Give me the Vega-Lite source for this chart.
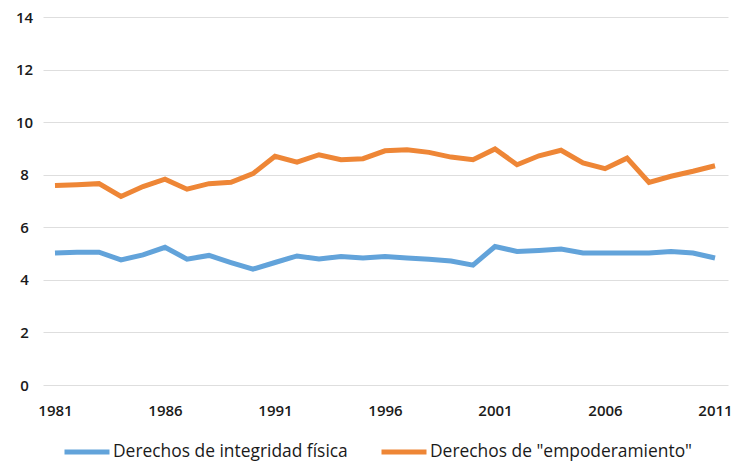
{
  "$schema": "https://vega.github.io/schema/vega-lite/v6.json",
  "width": 685,
  "height": 368,
  "autosize": {"type": "none"},
  "padding": {"left": 43, "top": 17, "right": 5, "bottom": 85},
  "background": "white",
  "config": {
    "view": {"stroke": null},
    "font": "Open Sans"
  },
  "data": {
    "values": [
      {"year": 1981, "serie": "Derechos de integridad física", "valor": 5.02},
      {"year": 1982, "serie": "Derechos de integridad física", "valor": 5.05},
      {"year": 1983, "serie": "Derechos de integridad física", "valor": 5.05},
      {"year": 1984, "serie": "Derechos de integridad física", "valor": 4.76},
      {"year": 1985, "serie": "Derechos de integridad física", "valor": 4.95},
      {"year": 1986, "serie": "Derechos de integridad física", "valor": 5.24},
      {"year": 1987, "serie": "Derechos de integridad física", "valor": 4.79},
      {"year": 1988, "serie": "Derechos de integridad física", "valor": 4.93},
      {"year": 1989, "serie": "Derechos de integridad física", "valor": 4.66},
      {"year": 1990, "serie": "Derechos de integridad física", "valor": 4.41},
      {"year": 1991, "serie": "Derechos de integridad física", "valor": 4.66},
      {"year": 1992, "serie": "Derechos de integridad física", "valor": 4.91},
      {"year": 1993, "serie": "Derechos de integridad física", "valor": 4.79},
      {"year": 1994, "serie": "Derechos de integridad física", "valor": 4.89},
      {"year": 1995, "serie": "Derechos de integridad física", "valor": 4.83},
      {"year": 1996, "serie": "Derechos de integridad física", "valor": 4.89},
      {"year": 1997, "serie": "Derechos de integridad física", "valor": 4.83},
      {"year": 1998, "serie": "Derechos de integridad física", "valor": 4.78},
      {"year": 1999, "serie": "Derechos de integridad física", "valor": 4.72},
      {"year": 2000, "serie": "Derechos de integridad física", "valor": 4.56},
      {"year": 2001, "serie": "Derechos de integridad física", "valor": 5.27},
      {"year": 2002, "serie": "Derechos de integridad física", "valor": 5.08},
      {"year": 2003, "serie": "Derechos de integridad física", "valor": 5.12},
      {"year": 2004, "serie": "Derechos de integridad física", "valor": 5.17},
      {"year": 2005, "serie": "Derechos de integridad física", "valor": 5.02},
      {"year": 2006, "serie": "Derechos de integridad física", "valor": 5.02},
      {"year": 2007, "serie": "Derechos de integridad física", "valor": 5.02},
      {"year": 2008, "serie": "Derechos de integridad física", "valor": 5.02},
      {"year": 2009, "serie": "Derechos de integridad física", "valor": 5.08},
      {"year": 2010, "serie": "Derechos de integridad física", "valor": 5.02},
      {"year": 2011, "serie": "Derechos de integridad física", "valor": 4.83},
      {"year": 1981, "serie": "Derechos de \"empoderamiento\"", "valor": 7.59},
      {"year": 1982, "serie": "Derechos de \"empoderamiento\"", "valor": 7.62},
      {"year": 1983, "serie": "Derechos de \"empoderamiento\"", "valor": 7.66},
      {"year": 1984, "serie": "Derechos de \"empoderamiento\"", "valor": 7.17},
      {"year": 1985, "serie": "Derechos de \"empoderamiento\"", "valor": 7.55},
      {"year": 1986, "serie": "Derechos de \"empoderamiento\"", "valor": 7.83},
      {"year": 1987, "serie": "Derechos de \"empoderamiento\"", "valor": 7.45},
      {"year": 1988, "serie": "Derechos de \"empoderamiento\"", "valor": 7.66},
      {"year": 1989, "serie": "Derechos de \"empoderamiento\"", "valor": 7.71},
      {"year": 1990, "serie": "Derechos de \"empoderamiento\"", "valor": 8.04},
      {"year": 1991, "serie": "Derechos de \"empoderamiento\"", "valor": 8.70},
      {"year": 1992, "serie": "Derechos de \"empoderamiento\"", "valor": 8.48},
      {"year": 1993, "serie": "Derechos de \"empoderamiento\"", "valor": 8.76},
      {"year": 1994, "serie": "Derechos de \"empoderamiento\"", "valor": 8.57},
      {"year": 1995, "serie": "Derechos de \"empoderamiento\"", "valor": 8.61},
      {"year": 1996, "serie": "Derechos de \"empoderamiento\"", "valor": 8.91},
      {"year": 1997, "serie": "Derechos de \"empoderamiento\"", "valor": 8.95},
      {"year": 1998, "serie": "Derechos de \"empoderamiento\"", "valor": 8.85},
      {"year": 1999, "serie": "Derechos de \"empoderamiento\"", "valor": 8.67},
      {"year": 2000, "serie": "Derechos de \"empoderamiento\"", "valor": 8.57},
      {"year": 2001, "serie": "Derechos de \"empoderamiento\"", "valor": 8.98},
      {"year": 2002, "serie": "Derechos de \"empoderamiento\"", "valor": 8.38},
      {"year": 2003, "serie": "Derechos de \"empoderamiento\"", "valor": 8.72},
      {"year": 2004, "serie": "Derechos de \"empoderamiento\"", "valor": 8.93},
      {"year": 2005, "serie": "Derechos de \"empoderamiento\"", "valor": 8.45},
      {"year": 2006, "serie": "Derechos de \"empoderamiento\"", "valor": 8.23},
      {"year": 2007, "serie": "Derechos de \"empoderamiento\"", "valor": 8.63},
      {"year": 2008, "serie": "Derechos de \"empoderamiento\"", "valor": 7.71},
      {"year": 2009, "serie": "Derechos de \"empoderamiento\"", "valor": 7.94},
      {"year": 2010, "serie": "Derechos de \"empoderamiento\"", "valor": 8.13},
      {"year": 2011, "serie": "Derechos de \"empoderamiento\"", "valor": 8.34}
    ]
  },
  "mark": {"type": "line", "strokeWidth": 5, "strokeJoin": "miter", "strokeCap": "butt"},
  "encoding": {
    "x": {
      "field": "year",
      "type": "quantitative",
      "scale": {"domain": [1980.455, 2011.59], "nice": false, "zero": false},
      "axis": {
        "title": null,
        "values": [1981, 1986, 1991, 1996, 2001, 2006, 2011],
        "format": "d",
        "grid": false,
        "domain": false,
        "ticks": false,
        "labelPadding": 18,
        "labelFontSize": 15,
        "labelFontWeight": 600,
        "labelColor": "#1a1a1a",
        "labelFont": "Open Sans"
      }
    },
    "y": {
      "field": "valor",
      "type": "quantitative",
      "scale": {"domain": [0, 14], "nice": false},
      "axis": {
        "title": null,
        "values": [0, 2, 4, 6, 8, 10, 12, 14],
        "grid": true,
        "gridColor": "#dedede",
        "gridWidth": 1,
        "domain": false,
        "ticks": false,
        "labelPadding": 19,
        "labelAlign": "center",
        "labelFontSize": 15,
        "labelFontWeight": 600,
        "labelColor": "#1a1a1a",
        "labelFont": "Open Sans"
      }
    },
    "color": {
      "field": "serie",
      "type": "nominal",
      "sort": ["Derechos de integridad física", "Derechos de \"empoderamiento\""],
      "scale": {
        "domain": ["Derechos de integridad física", "Derechos de \"empoderamiento\""],
        "range": ["#62A3DA", "#EE8636"]
      },
      "legend": {
        "title": null,
        "orient": "none",
        "direction": "horizontal",
        "legendX": 19,
        "legendY": 410,
        "symbolType": "stroke",
        "symbolSize": 2025,
        "symbolStrokeWidth": 5,
        "labelFontSize": 17.4,
        "labelLimit": 0,
        "labelColor": "#1a1a1a",
        "labelFont": "Open Sans",
        "labelOffset": 1,
        "columnPadding": 23
      }
    }
  }
}
